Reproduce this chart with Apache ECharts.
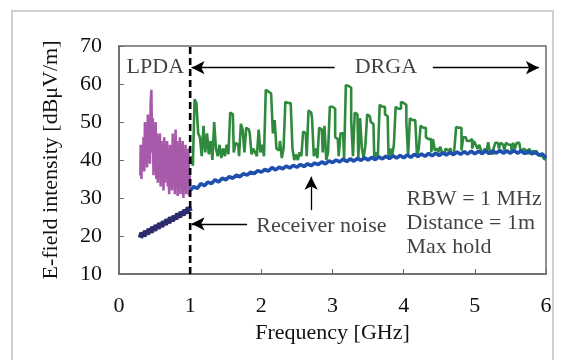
<!DOCTYPE html>
<html><head><meta charset="utf-8">
<script src="https://cdn.jsdelivr.net/npm/echarts@6/dist/echarts.min.js"></script>
<style>html,body{margin:0;padding:0;background:#fff}#c{width:564px;height:360px}</style>
</head><body><div id="c"></div>
<script>
// ---- data ----
const xTicks = [0,1,2,3,4,5,6];
const yTicks = [10,20,30,40,50,60,70];

const purpleFreq = [0.30,0.31,0.32,0.33,0.34,0.35,0.36,0.37,0.38,0.39,0.40,0.41,0.42,0.43,0.44,0.45,0.46,0.47,0.48,0.49,0.50,0.51,0.52,0.53,0.54,0.55,0.56,0.57,0.58,0.59,0.60,0.61,0.62,0.63,0.64,0.65,0.66,0.67,0.68,0.69,0.70,0.71,0.72,0.73,0.74,0.75,0.76,0.77,0.78,0.79,0.80,0.81,0.82,0.83,0.84,0.85,0.86,0.87,0.88,0.89,0.90,0.91,0.92,0.93,0.94,0.95,0.96,0.97,0.98,0.99,1.00];
const purpleVal = [36,44,35,43,38,46,37,50,40,48,38,52,41,51,39,55,58.5,42,51,36,49,37,50,35,47,34,46,38,47,33,45,36,44,32,46,34,43,36,45,33,42,31,44,35,41,32,47,34,44,31,48,36,45,30.5,43,33,46,31,42,34,45,30,41,32,44,31,40,33,43,30.5,36];

const navyFreq = [0.300,0.325,0.350,0.375,0.400,0.425,0.450,0.475,0.500,0.525,0.550,0.575,0.600,0.625,0.650,0.675,0.700,0.725,0.750,0.775,0.800,0.825,0.850,0.875,0.900,0.925,0.950,0.975,1.000];
const navyVal = [19.5,20.8,20,21.3,20.5,21.8,21,22.3,21.5,22.8,22,23.3,22.5,23.8,23,24.3,23.5,24.8,24,25.2,24.5,25.8,25,26.3,25.5,26.8,26,27.5,26.5];

const greenFreq = [
1.000,1.025,1.050,1.075,1.100,1.125,1.150,1.175,1.200,1.225,1.250,1.275,1.300,1.325,1.350,1.375,1.400,1.425,1.450,1.475,
1.500,1.525,1.550,1.575,1.600,1.625,1.650,1.675,1.700,1.725,1.750,1.775,1.800,1.825,1.850,1.875,1.900,1.925,1.950,1.975,
2.000,2.025,2.050,2.075,2.100,2.125,2.150,2.175,2.200,2.225,2.250,2.275,2.300,2.325,2.350,2.375,2.400,2.425,2.450,2.475,
2.500,2.525,2.550,2.575,2.600,2.625,2.650,2.675,2.700,2.725,2.750,2.775,2.800,2.825,2.850,2.875,2.900,2.925,2.950,2.975,
3.000,3.025,3.050,3.075,3.100,3.125,3.150,3.175,3.200,3.225,3.250,3.275,3.300,3.325,3.350,3.375,3.400,3.425,3.450,3.475,
3.500,3.525,3.550,3.575,3.600,3.625,3.650,3.675,3.700,3.725,3.750,3.775,3.800,3.825,3.850,3.875,3.900,3.925,3.950,3.975,
4.000,4.025,4.050,4.075,4.100,4.125,4.150,4.175,4.200,4.225,4.250,4.275,4.300,4.325,4.350,4.375,4.400,4.425,4.450,4.475,
4.500,4.525,4.550,4.575,4.600,4.625,4.650,4.675,4.700,4.725,4.750,4.775,4.800,4.825,4.850,4.875,4.900,4.925,4.950,4.975,
5.000,5.025,5.050,5.075,5.100,5.125,5.150,5.175,5.200,5.225,5.250,5.275,5.300,5.325,5.350,5.375,5.400,5.425,5.450,5.475,
5.500,5.525,5.550,5.575,5.600,5.625,5.650,5.675,5.700,5.725,5.750,5.775,5.800,5.825,5.850,5.875,5.900,5.925,5.950,5.975,6.000];
const greenVal = [
39,41,38.5,56,55,47,46,41,49,42,47,41.5,45,40,50,43,41,44,40.5,43,
41,44,41.5,52.5,52,42,44.5,44,41,49.5,48,42,48.5,48,47,41.5,43,42,41,48,
42,44,41,58.5,58,57.5,57.5,47,50.5,43,42.5,45,40.5,43,55.3,55,55,54.5,43,40,
41.5,40,42,41,47.5,47,41,53,52.5,51,41,43,40.5,48.5,48,42,49,40,42,54,
54,53.5,46,45.5,41,47,47,40,59.7,59.5,59,50.5,41,52.5,52,40.5,51,43,40.5,44,
52,51.5,50,49.5,40.5,42,41,54.5,54,54,52,51.5,40.5,43,41,44,54,53.5,53.5,55.3,
55,54.5,50,41,51,50.5,50.5,50,41,43,49,48.5,48.5,46,45.5,45.5,42,45.5,42.5,43,
42,43.5,42,41.5,43,42.5,43,42,41.5,43,48.7,48.5,48.5,42.5,46,46,45,45,45.5,43,
45,44,43,44,42.5,41.5,43,42,44.7,42,41.5,43,44.5,44.5,43,44.5,44,42.5,44.5,44,
44,42.5,44.5,43,44.5,44.5,43,42,43,42.5,41.5,43,42,42.5,41.5,42.5,41.5,41,41.5,40.5,40];

const blueFreq = [1.00,1.05,1.10,1.15,1.20,1.25,1.30,1.35,1.40,1.45,1.50,1.55,1.60,1.65,1.70,1.75,1.80,1.85,1.90,1.95,
2.00,2.05,2.10,2.15,2.20,2.25,2.30,2.35,2.40,2.45,2.50,2.55,2.60,2.65,2.70,2.75,2.80,2.85,2.90,2.95,
3.00,3.05,3.10,3.15,3.20,3.25,3.30,3.35,3.40,3.45,3.50,3.55,3.60,3.65,3.70,3.75,3.80,3.85,3.90,3.95,
4.00,4.05,4.10,4.15,4.20,4.25,4.30,4.35,4.40,4.45,4.50,4.55,4.60,4.65,4.70,4.75,4.80,4.85,4.90,4.95,
5.00,5.05,5.10,5.15,5.20,5.25,5.30,5.35,5.40,5.45,5.50,5.55,5.60,5.65,5.70,5.75,5.80,5.85,5.90,5.95,6.00];
const blueVal = [32,33,32.5,33.8,33.2,34.2,33.8,34.8,34.2,35.2,34.8,35.6,35.2,36,35.6,36.4,36,36.8,36.4,37.2,
36.8,37.5,37.1,38,37.4,38.1,37.7,38.4,37.9,38.6,38.1,38.8,38.3,39,38.5,39.2,38.8,39.5,39,39.8,
39.3,40,39.5,40.2,39.6,40.3,39.7,40.4,39.9,40.6,40,40.7,40.1,40.8,40.3,41,40.4,41.1,40.5,41.2,
40.6,41.3,40.7,41.5,40.9,41.6,41,41.7,41.1,41.8,41.2,41.9,41.3,42,41.4,42.1,41.5,42.2,41.6,42.3,
41.6,42.3,41.7,42.4,41.7,42.4,41.8,42.5,41.8,42.4,41.8,42.5,41.8,42.4,41.7,42.3,41.6,42.1,41.3,41.6,40.5];

const bandEdge = 1;          // LPDA / DRGA boundary [GHz]
const labelsCentered = [["LPDA", 0.51, 64.3], ["DRGA", 3.75, 64.3]];
const labelsLeft = [["Receiver noise", 1.93, 22.6], ["RBW = 1 MHz", 4.04, 29.7], ["Distance = 1m", 4.04, 23.4], ["Max hold", 4.04, 17.1]];
const arrows = [[[3.03, 64.3], [1.02, 64.3]], [[4.41, 64.3], [5.9, 64.3]], [[1.8, 23.2], [1.02, 23.2]], [[2.7, 26.8], [2.7, 35.6]]];

// ---- chart ----
const zip = (a, b) => a.map((v, i) => [v, b[i]]);
const FONT = 'Liberation Serif';
const FS = 22;
const chart = echarts.init(document.getElementById('c'), null, {renderer: 'canvas'});
chart.setOption({
  animation: false,
  backgroundColor: '#fff',
  graphic: [{type: 'rect', shape: {x: 12, y: 11, width: 541, height: 370}, style: {fill: 'none', stroke: '#cfcfcf', lineWidth: 2}}],
  grid: {left: 119, top: 46, right: 18, bottom: 86, show: true, borderColor: '#6a6a6a', borderWidth: 1.5, backgroundColor: 'transparent'},
  xAxis: {
    type: 'value', min: xTicks[0], max: xTicks[xTicks.length - 1], interval: 1,
    name: 'Frequency [GHz]', nameLocation: 'middle', nameGap: 48,
    nameTextStyle: {fontFamily: FONT, fontSize: FS, color: '#111'},
    axisLine: {lineStyle: {color: '#6a6a6a', width: 1.5}},
    axisTick: {inside: true, length: 5, lineStyle: {color: '#6a6a6a'}},
    axisLabel: {fontFamily: FONT, fontSize: FS, color: '#111', margin: 21},
    splitLine: {show: false}
  },
  yAxis: {
    type: 'value', min: yTicks[0], max: yTicks[yTicks.length - 1], interval: 10,
    name: 'E-field intensity [dBμV/m]', nameLocation: 'middle', nameGap: 57, nameRotate: 90,
    nameTextStyle: {fontFamily: FONT, fontSize: FS, color: '#111'},
    axisLine: {show: true, lineStyle: {color: '#6a6a6a', width: 1.5}},
    axisTick: {show: true, inside: true, length: 5, lineStyle: {color: '#6a6a6a'}},
    axisLabel: {fontFamily: FONT, fontSize: FS, color: '#111', margin: 17},
    splitLine: {show: false}
  },
  series: [
    {type: 'line', data: zip(purpleFreq, purpleVal), symbol: 'none', step: 'middle', lineStyle: {color: '#a65aa9', width: 2.6}},
    {type: 'line', data: zip(navyFreq, navyVal), symbol: 'none', lineStyle: {color: '#2c2b6c', width: 5.5}},
    {type: 'line', data: zip(greenFreq, greenVal), symbol: 'none', step: 'middle', lineStyle: {color: '#2f8a3d', width: 2.6}},
    {type: 'line', data: zip(blueFreq, blueVal), symbol: 'none', lineStyle: {color: '#1f50b0', width: 3.6}},
    {type: 'line', data: [[bandEdge, yTicks[0]], [bandEdge, yTicks[yTicks.length - 1]]], symbol: 'none', z: 5,
     lineStyle: {color: '#000', width: 2.6, type: [7, 4]},
     markLine: {silent: true, symbol: ['none', 'arrow'], symbolSize: [10, 13], label: {show: false},
       lineStyle: {color: '#000', width: 1.3, type: 'solid'},
       data: arrows.map(a => [{coord: a[0]}, {coord: a[1]}])}},
    {type: 'scatter', symbolSize: 0, z: 6, data: labelsCentered.map(t => [t[1], t[2], t[0]]),
     label: {show: true, position: 'inside', formatter: p => p.value[2], fontFamily: FONT, fontSize: FS, color: '#111'}},
    {type: 'scatter', symbolSize: 0, z: 6, data: labelsLeft.map(t => [t[1], t[2], t[0]]),
     label: {show: true, position: 'right', distance: 0, align: 'left', formatter: p => p.value[2], fontFamily: FONT, fontSize: FS, color: '#111'}}
  ]
});
</script></body></html>
